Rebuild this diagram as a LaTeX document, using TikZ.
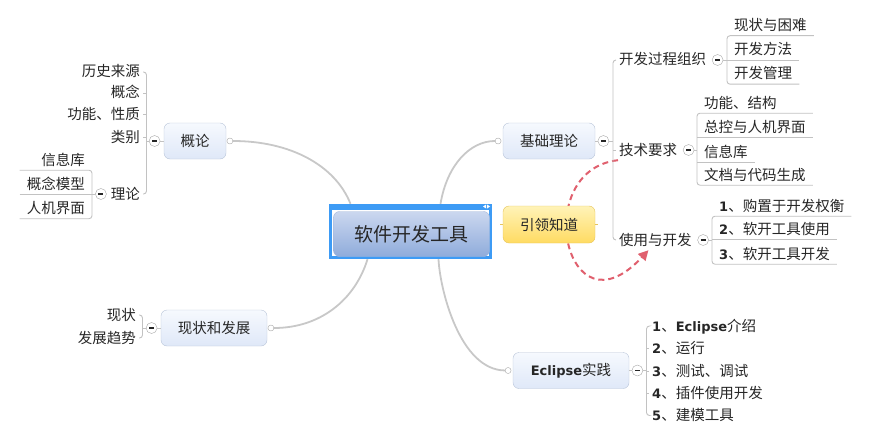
\documentclass[tikz,border=0pt]{standalone}
\usepackage{fontspec}
\setmainfont{Noto Sans CJK SC}
\newfontfamily\latfont{DejaVu Sans}
\usetikzlibrary{positioning,arrows.meta,backgrounds}

\definecolor{txt}{HTML}{262626}
\definecolor{twig}{HTML}{C2C2C2}
\definecolor{limb}{HTML}{C8C8C8}
\definecolor{topicline}{HTML}{B8C4D8}
\definecolor{topictop}{HTML}{F6F9FE}
\definecolor{topicbot}{HTML}{DFE8F8}
\definecolor{selblue}{HTML}{3D9BF5}
\definecolor{hubline}{HTML}{A3B6D9}
\definecolor{hubtop}{HTML}{CBD8EF}
\definecolor{hubbot}{HTML}{8FABDB}
\definecolor{gold}{HTML}{E6C45C}
\definecolor{goldtop}{HTML}{FFF3B8}
\definecolor{goldbot}{HTML}{FFDB62}
\definecolor{relred}{HTML}{E0606E}

\newcommand{\fs}[1]{\fontsize{#1}{#1}\selectfont}
\newcommand{\num}[1]{{\latfont\bfseries\fontsize{13}{15}\selectfont #1}}

\tikzset{
  topic/.style={draw=topicline, rounded corners=6pt, top color=topictop, bottom color=topicbot,
    minimum height=36pt, inner sep=0pt, text=txt, font=\fs{14.5}},
  leaf/.style={inner xsep=3pt, inner ysep=3pt, text height=12pt, text depth=2pt, text=txt, font=\fs{14.5}},
  uleaf/.style={leaf, inner xsep=7pt},
  twig/.style={draw=twig, line width=0.9pt, rounded corners=3pt},
  limb/.style={draw=limb, line width=1.8pt},
  fold/.style={circle, draw=twig!85!black, fill=white, minimum size=11pt, inner sep=0pt,
    path picture={\draw[txt, line width=1.3pt] ([xshift=-2.5pt]path picture bounding box.center)
      -- ([xshift=2.5pt]path picture bounding box.center);}},
  knob/.style={circle, draw=twig!85!black, fill=white, minimum size=6pt, inner sep=0pt},
  rel/.style={draw=relred, line width=2pt, dash pattern=on 6pt off 4pt, -{Triangle[length=10pt,width=10pt]}},
}

\begin{document}
\begin{tikzpicture}[x=1pt,y=-1pt]
\useasboundingbox (0,0) rectangle (874,441);

\node[fill=selblue, minimum width=163pt, minimum height=55pt, inner sep=0pt] (sel) at (410.5,231.5) {};
\fill[white] ([xshift=3pt,yshift=-6pt]sel.north west) rectangle ([xshift=-3pt,yshift=3pt]sel.south east);
\fill[white] (483,206.5) -- (486,204.5) -- (486,208.5) -- cycle;
\fill[white] (490,206.5) -- (487,204.5) -- (487,208.5) -- cycle;
\node[draw=hubline, rounded corners=6pt, top color=hubtop, bottom color=hubbot, minimum width=156pt,
  minimum height=45pt, inner sep=0pt, text=txt, font=\fs{19}] (hub) at (411.5,234) {软件开发工具};

\node[topic, minimum width=62pt] (gailun) at (195,141) {概论};
\node[topic, minimum width=106pt] (xzfz) at (214,328) {现状和发展};
\node[topic, minimum width=92pt] (jichu) at (549,141) {基础理论};
\node[topic, minimum width=116pt] (ecl) at (571,370.5) {\num{Eclipse}实践};
\node[topic, draw=gold, top color=goldtop, bottom color=goldbot, minimum width=92pt, minimum height=37pt] (yinling) at (549,224.5) {引领知道};

\node[knob, right=0.5pt of gailun] (gk) {};
\node[fold, left=3.5pt of gailun] (gf) {};
\node[knob, right=0.5pt of xzfz] (xk) {};
\node[fold, left=3.5pt of xzfz] (xf) {};
\node[knob, left=1.5pt of jichu] (jk) {};
\node[fold, right=2.5pt of jichu] (jf) {};
\node[knob, left=1.5pt of ecl] (ek) {};
\node[fold, right=2.5pt of ecl] (ef) {};

\draw[gold, line width=1.5pt] (yinling.west) -- ++(-3,0);
\draw[gold, line width=1.5pt] (yinling.east) -- ++(3,0);

% 概论
\node[leaf, anchor=east] (g1) at (143,72) {历史来源};
\node[leaf, anchor=east] (g2) at (143,93) {概念};
\node[leaf, anchor=east] (g3) at (143,114) {功能、性质};
\node[leaf, anchor=east] (g4) at (143,137) {类别};
\node[leaf, anchor=east] (g5) at (143,194) {理论};
\coordinate (gs) at (146.5,141);
\draw[twig] (g1.east) -| (gs) |- (g5.east);
\foreach \n in {g2,g3,g4}
  \draw[twig] (\n.east) -- (\n.east -| gs);
\draw[twig] (gs) -- (gf);
\draw[twig] (gf) -- (gailun);

\node[fold, left=1pt of g5] (lf) {};
\node[uleaf, anchor=east] (l1) at (92,160) {信息库};
\node[uleaf, anchor=east] (l2) at (92,184.5) {概念模型};
\node[uleaf, anchor=east] (l3) at (92,208.5) {人机界面};
\draw[twig] (l2.west |- l1.south) -- (l1.south east) -- (l3.south east) -- (l3.south west);
\draw[twig] (l2.south west) -- (l2.south east);
\draw[twig] (lf) -- (lf -| l1.east);

% 现状和发展
\node[leaf, anchor=east] (x1) at (139,315) {现状};
\node[leaf, anchor=east] (x2) at (139,338) {发展趋势};
\coordinate (xs) at (142.5,328);
\draw[twig] (x1.east) -| (xs) |- (x2.east);
\draw[twig] (xs) -- (xf);
\draw[twig] (xf) -- (xzfz);

% 基础理论
\node[leaf, anchor=west] (c1) at (616,60) {开发过程组织};
\node[leaf, anchor=west] (c2) at (616,150) {技术要求};
\node[leaf, anchor=west] (c3) at (616,240) {使用与开发};
\coordinate (js) at (613,141);
\draw[twig] (c1.west) -| (js) |- (c3.west);
\draw[twig] (c2.west) -- (c2.west -| js);
\draw[twig] (jf) -- (js);
\draw[twig] (jichu) -- (jf);
\node[fold, right=2.5pt of c1] (c1f) {};
\node[fold, right=2.5pt of c2] (c2f) {};
\node[fold, right=2.5pt of c3] (c3f) {};

\node[uleaf, anchor=west] (k1) at (727,25.5) {现状与困难};
\node[uleaf, anchor=west] (k2) at (727,50) {开发方法};
\node[uleaf, anchor=west] (k3) at (727,74) {开发管理};
\draw[twig] (k1.south east) -- (k1.south west) -- (k3.south west) -- (k3.south east);
\draw[twig] (k2.south west) -- (k2.south east);
\draw[twig] (c1f) -- (c1f -| k1.west);

\node[uleaf, anchor=west] (f1) at (697,103) {功能、结构};
\node[uleaf, anchor=west] (f2) at (697,127) {总控与人机界面};
\node[uleaf, anchor=west] (f3) at (697,152) {信息库};
\node[uleaf, anchor=west] (f4) at (697,175) {文档与代码生成};
\draw[twig] (f2.east |- f1.south) -- (f1.south west) -- (f4.south west) -- (f4.south east);
\draw[twig] (f2.south west) -- (f2.south east);
\draw[twig] (f3.south west) -- (f3.south east);
\draw[twig] (c2f) -- (c2f -| f1.west);

\node[uleaf, anchor=west] (u1) at (712,206) {\num{1}、购置于开发权衡};
\node[uleaf, anchor=west] (u2) at (712,229) {\num{2}、软开工具使用};
\node[uleaf, anchor=west] (u3) at (712,254) {\num{3}、软开工具开发};
\draw[twig] (u1.south east) -- (u1.south west) -- (u3.south west) -- (u3.south east);
\draw[twig] (u2.south west) -- (u2.south east);
\draw[twig] (c3f) -- (c3f -| u1.west);

% Eclipse实践
\node[leaf, anchor=west] (e1) at (649,326) {\num{1}、\num{Eclipse}介绍};
\node[leaf, anchor=west] (e2) at (649,348.5) {\num{2}、运行};
\node[leaf, anchor=west] (e3) at (649,371) {\num{3}、测试、调试};
\node[leaf, anchor=west] (e4) at (649,393) {\num{4}、插件使用开发};
\node[leaf, anchor=west] (e5) at (649,415.5) {\num{5}、建模工具};
\coordinate (es) at (646.5,370.5);
\draw[twig] (e1.west) -| (es) |- (e5.west);
\foreach \n in {e2,e3,e4}
  \draw[twig] (\n.west) -- (\n.west -| es);
\draw[twig] (ef) -- (es);
\draw[twig] (ecl) -- (ef);

\begin{pgfonlayer}{background}
\draw[limb] (gk) .. controls (290,141) and (335,165) .. ([xshift=-60pt]sel.north);
\draw[limb] (jk) .. controls (470,141) and (447,165) .. ([xshift=30pt]sel.north);
\draw[limb] (xk) .. controls (320,328) and (355,300) .. ([xshift=-43pt]sel.south);
\draw[limb] (ek) .. controls (460,370) and (440,290) .. ([xshift=28pt]sel.south);
\draw[rel] ([xshift=2pt]c2.south west) .. controls (530,170) and (565,340) .. ([xshift=-7pt]c3.south);
\end{pgfonlayer}
\end{tikzpicture}
\end{document}
